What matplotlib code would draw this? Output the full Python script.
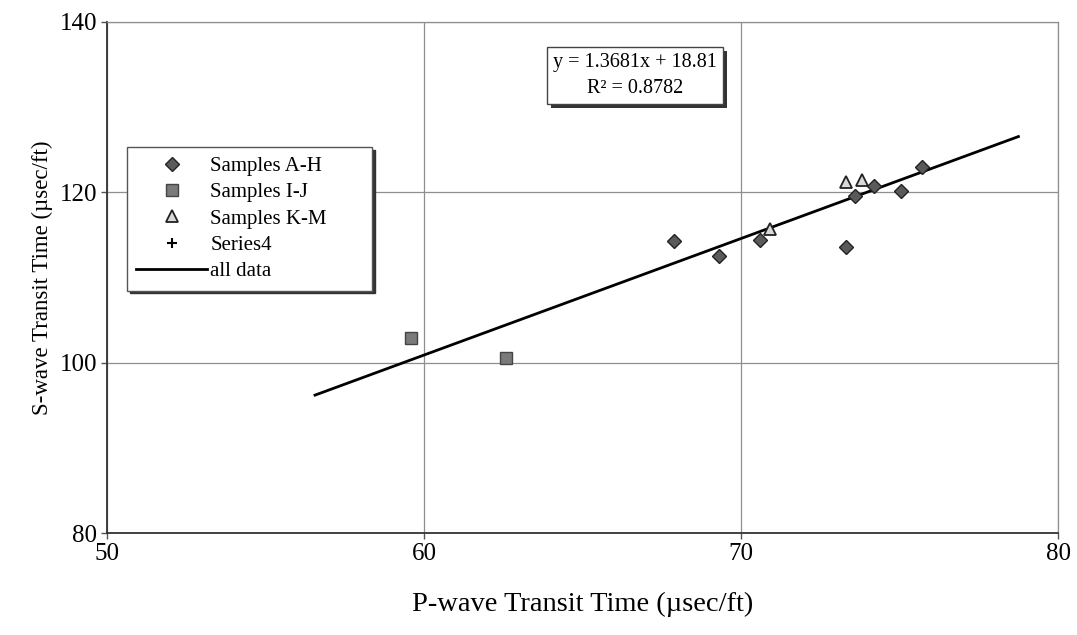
import numpy as np
import matplotlib
matplotlib.use("Agg")
import matplotlib.pyplot as plt
from matplotlib.patches import Rectangle

plt.rcParams['font.family'] = ['Liberation Serif', 'DejaVu Serif']

# P-wave / S-wave transit times (usec/ft)
p_ah = [67.9, 69.3, 70.6, 73.3, 73.6, 74.2, 75.05, 75.7]
s_ah = [114.3, 112.5, 114.4, 113.6, 119.6, 120.8, 120.2, 123.0]
p_ij = [59.6, 62.6]
s_ij = [102.9, 100.5]
p_km = [73.3, 73.8, 70.9]
s_km = [121.2, 121.4, 115.7]

# linear trendline through all samples
slope, intercept = 1.3681, 18.81
r2 = 0.8782
fit_x = np.array([56.56, 78.75])

fig = plt.figure(figsize=(10.77, 6.35), dpi=100)
ax = fig.add_axes([0.0994, 0.1606, 0.8830, 0.8048])

ax.plot(p_ah, s_ah, linestyle='none', marker='D', markersize=7.5,
        markerfacecolor='#5a5a5a', markeredgecolor='#222222', markeredgewidth=1,
        label='Samples A-H', zorder=4)
ax.plot(p_ij, s_ij, linestyle='none', marker='s', markersize=8.5,
        markerfacecolor='#7a7a7a', markeredgecolor='#444444', markeredgewidth=1,
        label='Samples I-J', zorder=4)
ax.plot(p_km, s_km, linestyle='none', marker='^', markersize=9,
        markerfacecolor='#d8d8d8', markeredgecolor='#222222', markeredgewidth=1.3,
        label='Samples K-M', zorder=4)
ax.plot([], [], linestyle='none', marker='+', markersize=7, color='black',
        markeredgewidth=1.5, label='Series4')
ax.plot(fit_x, slope * fit_x + intercept, color='black', linewidth=2,
        label='all data', zorder=3)

ax.set_xlim(50, 80)
ax.set_ylim(80, 140)
ax.set_xticks([50, 60, 70, 80])
ax.set_yticks([80, 100, 120, 140])
ax.grid(True, color='#8f8f8f', linewidth=0.9)
ax.set_axisbelow(True)
for side in ['top', 'right']:
    ax.spines[side].set_color('#8f8f8f')
    ax.spines[side].set_linewidth(0.9)
for side in ['left', 'bottom']:
    ax.spines[side].set_color('#333333')
    ax.spines[side].set_linewidth(1.3)
ax.tick_params(direction='out', length=4, width=1, color='#555555',
               labelsize=18, pad=3)
ax.tick_params(axis='x', pad=3.5)

ax.set_xlabel('P-wave Transit Time (µsec/ft)', fontsize=20.5, labelpad=19)
ax.set_ylabel('S-wave Transit Time (µsec/ft)', fontsize=16.5, labelpad=5)

# legend stretched to a fixed box width
leg = ax.legend(loc='upper left', bbox_to_anchor=(0.021, 0.755, 0.258, 0.0),
                mode='expand', borderaxespad=0, fontsize=15,
                frameon=True, fancybox=False, edgecolor='#555555',
                framealpha=1, borderpad=0.45, labelspacing=0.32,
                handlelength=3.4, handletextpad=0.15,
                shadow={'color': '#333333', 'alpha': 1})
leg.get_frame().set_linewidth(1)

# regression equation box with a drop shadow
eq_text = f'y = {slope}x + {intercept}\nR² = {r2}'
eq = ax.text(0.555, 0.895, eq_text, transform=ax.transAxes, ha='center',
             va='center', fontsize=14.5, color='black', linespacing=1.45,
             bbox=dict(boxstyle='square,pad=0.3', facecolor='white',
                       edgecolor='#444444', linewidth=1), zorder=7)
fig.canvas.draw()
bb = eq.get_bbox_patch().get_window_extent().transformed(fig.transFigure.inverted())
dx, dy = 4 / fig.bbox.width, -4 / fig.bbox.height
ax.add_patch(Rectangle((bb.x0 + dx, bb.y0 + dy), bb.width, bb.height,
                       transform=fig.transFigure, facecolor='#333333',
                       edgecolor='none', zorder=6, clip_on=False))

fig.savefig('out.png', dpi=100, facecolor='white')
